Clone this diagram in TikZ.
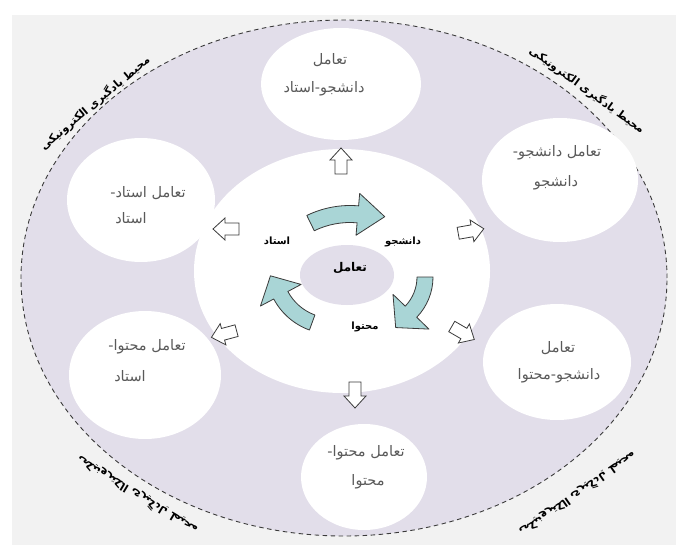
\documentclass[tikz,border=0pt]{standalone}
\usepackage{fontspec}
\usetikzlibrary{shapes.geometric}
\TeXXeTstate=1
\newfontfamily\arabicfont[Script=Arabic]{DejaVu Sans}
\newcommand{\fa}[1]{{\arabicfont\beginR #1\endR}}

\definecolor{pagegray}{HTML}{F2F2F2}
\definecolor{lavender}{HTML}{E2DEEA}
\definecolor{cyclefill}{HTML}{A9D5D6}
\definecolor{inkgray}{HTML}{5A5A5A}
\definecolor{edgegray}{HTML}{3A3A3A}

% curved cycle arrow: centre, mid radius, start/end angle (clockwise),
% band width, head width, head length
\newcommand{\cyclearrow}[8]{%
  \begin{scope}[shift={(#1,#2)}, yscale=-1]
    \pgfmathsetmacro{\ro}{#3+#6/2}
    \pgfmathsetmacro{\ri}{#3-#6/2}
    \pgfmathsetmacro{\ho}{#3+#7/2}
    \pgfmathsetmacro{\hi}{#3-#7/2}
    \draw[cyclearrowstyle]
      (#4:\ro) arc[start angle=#4, end angle=#5, radius=\ro]
      -- (#5:\ho)
      -- ({#3*cos(#5)+#8*sin(#5)},{#3*sin(#5)-#8*cos(#5)})
      -- (#5:\hi) -- (#5:\ri)
      arc[start angle=#5, end angle=#4, radius=\ri] -- cycle;
  \end{scope}}

% outlined block arrow: name, position, direction
\newcommand{\blockarrow}[4]{%
  \coordinate (#1) at (#2,#3);
  \draw[blockarrowstyle, shift={(#1)}, rotate=#4]
    (-13,-6) -- (1,-6) -- (1,-11) -- (13,0) -- (1,11) -- (1,6) -- (-13,6) -- cycle;}

\begin{document}
\begin{tikzpicture}[x=1pt,y=-1pt,
  bubble/.style={ellipse, fill=white, draw=none, inner sep=0pt},
  bubbletext/.style={text=inkgray, font=\fontsize{14.5}{16}\selectfont, inner sep=0pt},
  corelabel/.style={font=\fontsize{10}{12}\selectfont\bfseries, inner sep=0pt},
  ringlabel/.style={font=\fontsize{11}{13}\selectfont\bfseries, inner sep=0pt},
  blockarrowstyle/.style={draw=edgegray, fill=white, line width=0.8pt, line join=miter},
  cyclearrowstyle/.style={fill=cyclefill, draw=edgegray, line width=0.8pt, line join=round}]

\useasboundingbox (0,0) rectangle (676,545);
\fill[white] (0,0) rectangle (676,545);
\fill[pagegray] (12,15) rectangle (676,545);

% outer learning environment
\node[ellipse, fill=lavender, draw=edgegray, line width=0.9pt,
  dash pattern=on 4.5pt off 3.5pt, minimum width=646pt, minimum height=516pt,
  inner sep=0pt] (env) at (344,278) {};

% interaction bubbles
\node[bubble, minimum width=160pt, minimum height=112pt] (bTop) at (341,84) {};
\node[bubble, minimum width=156pt, minimum height=124pt] (bTR) at (560,180) {};
\node[bubble, minimum width=148pt, minimum height=116pt] (bBR) at (557,362) {};
\node[bubble, minimum width=126pt, minimum height=106pt] (bBot) at (364,477) {};
\node[bubble, minimum width=148pt, minimum height=124pt] (bTL) at (141,200) {};
\node[bubble, minimum width=152pt, minimum height=128pt] (bBL) at (145,375) {};

% central area
\node[bubble, minimum width=296pt, minimum height=244pt] (core) at (342,271) {};
\node[ellipse, fill=lavender, draw=none, minimum width=94pt, minimum height=60pt,
  inner sep=0pt] (hub) at (347,275) {};

% bubble texts
\node[bubbletext] (tTopA) at (330,60) {\fa{تعامل}};
\node[bubbletext] (tTopB) at (324,89) {\fa{دانشجو-استاد}};
\node[bubbletext] (tTRA) at (557,153) {\fa{تعامل دانشجو-}};
\node[bubbletext] (tTRB) at (556,183) {\fa{دانشجو}};
\node[bubbletext] (tBRA) at (558,348) {\fa{تعامل}};
\node[bubbletext] (tBRB) at (559,376) {\fa{دانشجو-محتوا}};
\node[bubbletext] (tBotA) at (366,453) {\fa{تعامل محتوا-}};
\node[bubbletext] (tBotB) at (368,482) {\fa{محتوا}};
\node[bubbletext] (tTLA) at (148,193) {\fa{تعامل استاد-}};
\node[bubbletext] (tTLB) at (131,218) {\fa{استاد}};
\node[bubbletext] (tBLA) at (147,347) {\fa{تعامل محتوا-}};
\node[bubbletext] (tBLB) at (130,376) {\fa{استاد}};

% outward block arrows
\blockarrow{aTop}{341}{161}{90}
\blockarrow{aTR}{471}{231}{10}
\blockarrow{aBR}{463}{333}{-30}
\blockarrow{aBot}{355}{395}{-90}
\blockarrow{aTL}{226}{229}{180}
\blockarrow{aBL}{224}{334}{195}

% interaction cycle
\cyclearrow{350}{304}{90}{116}{85}{17}{42}{27}
\cyclearrow{375}{277}{50}{0}{-44}{16}{50}{22}
\cyclearrow{332}{268}{58}{250}{208}{16}{46}{22}

% core labels
\node[corelabel, font=\fontsize{12}{14}\selectfont\bfseries] (hubLabel) at (350,268) {\fa{تعامل}};
\node[corelabel] (lTeacher) at (277,241) {\fa{استاد}};
\node[corelabel] (lStudent) at (403,242) {\fa{دانشجو}};
\node[corelabel] (lContent) at (365,327) {\fa{محتوا}};

% labels of the surrounding environment
\node[ringlabel, rotate=40] (rTL) at (95,103) {\fa{محیط یادگیری الکترونیکی}};
\node[ringlabel, rotate=-36] (rTR) at (587,90) {\fa{محیط یادگیری الکترونیکی}};
\node[ringlabel, rotate=-31, yscale=-1] (rBL) at (137,495) {\fa{محیط یادگیری الکترونیکی}};
\node[ringlabel, rotate=35, yscale=-1] (rBR) at (578,494) {\fa{محیط یادگیری الکترونیکی}};
\end{tikzpicture}
\end{document}
